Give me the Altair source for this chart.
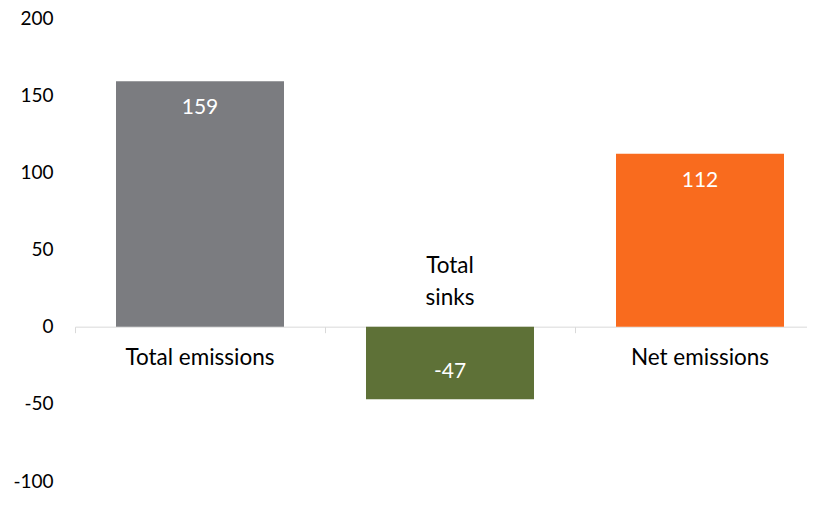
import altair as alt
import pandas as pd

categories = ["Total emissions", "Total sinks", "Net emissions"]
values = [159, -47, 112]
colors = ["#7B7C80", "#5E7137", "#F96B1E"]
cat_labels = ["Total emissions", "Total\nsinks", "Net emissions"]
y_ticks = [-100, -50, 0, 50, 100, 150, 200]

df = pd.DataFrame({"category": categories, "value": values, "label": cat_labels,
                   "vtext": [str(v) for v in values], "idx": list(range(len(categories)))})

FONT = "Lato"
HALF = 0.336  # half bar width in category units
H = 463
W = 732

xscale = alt.Scale(domain=[-0.5, -0.5 + W / 250], nice=False, zero=False)
x_axis = alt.Axis(title=None, labels=False, domainColor="#D9D9D9", tickColor="#D9D9D9",
                  tickSize=6, values=[-0.5, 0.5, 1.5], offset=-(H / 3), grid=False)

yscale = alt.Scale(domain=[-100, 200], nice=False)
y = alt.Y("value:Q", scale=yscale,
          axis=alt.Axis(title=None, values=y_ticks, domain=False, ticks=False, grid=False,
                        labelExpr="toString(datum.value)",
                        labelPadding=22, labelFont=FONT, labelFontSize=19, labelColor="#000000"))

base = alt.Chart(df)

bars = base.transform_calculate(
    x0=f"datum.idx - {HALF}", x1=f"datum.idx + {HALF}"
).mark_bar().encode(
    x=alt.X("x0:Q", scale=xscale, axis=x_axis),
    x2="x1:Q",
    y=y,
    y2=alt.datum(0),
    color=alt.Color("category:N", scale=alt.Scale(domain=categories, range=colors), legend=None),
)

xc = alt.X("idx:Q", scale=xscale)

pos_vals = base.transform_filter("datum.value >= 0").mark_text(
    font=FONT, fontSize=21, color="white", baseline="middle", dy=27
).encode(x=xc, y="value:Q", text="vtext:N")

neg_vals = base.transform_filter("datum.value < 0").mark_text(
    font=FONT, fontSize=21, color="white", baseline="middle", dy=-27
).encode(x=xc, y="value:Q", text="vtext:N")

pos_labels = base.transform_filter("datum.value >= 0").mark_text(
    font=FONT, fontSize=22.5, color="#000000", baseline="middle", dy=31
).encode(x=xc, y=alt.datum(0), text="label:N")

neg_labels = base.transform_filter("datum.value < 0").mark_text(
    font=FONT, fontSize=22.5, color="#000000", baseline="middle", dy=-61, lineBreak="\n", lineHeight=32
).encode(x=xc, y=alt.datum(0), text="label:N")

chart = alt.layer(bars, pos_vals, neg_vals, pos_labels, neg_labels).properties(
    width=W, height=H,
    autosize=alt.AutoSizeParams(type="none"),
    padding={"left": 67, "top": 10, "right": 0, "bottom": 10},
    background="white",
).configure_view(stroke=None)

chart.save("out.html", embed_options={"renderer": "svg", "actions": False})
